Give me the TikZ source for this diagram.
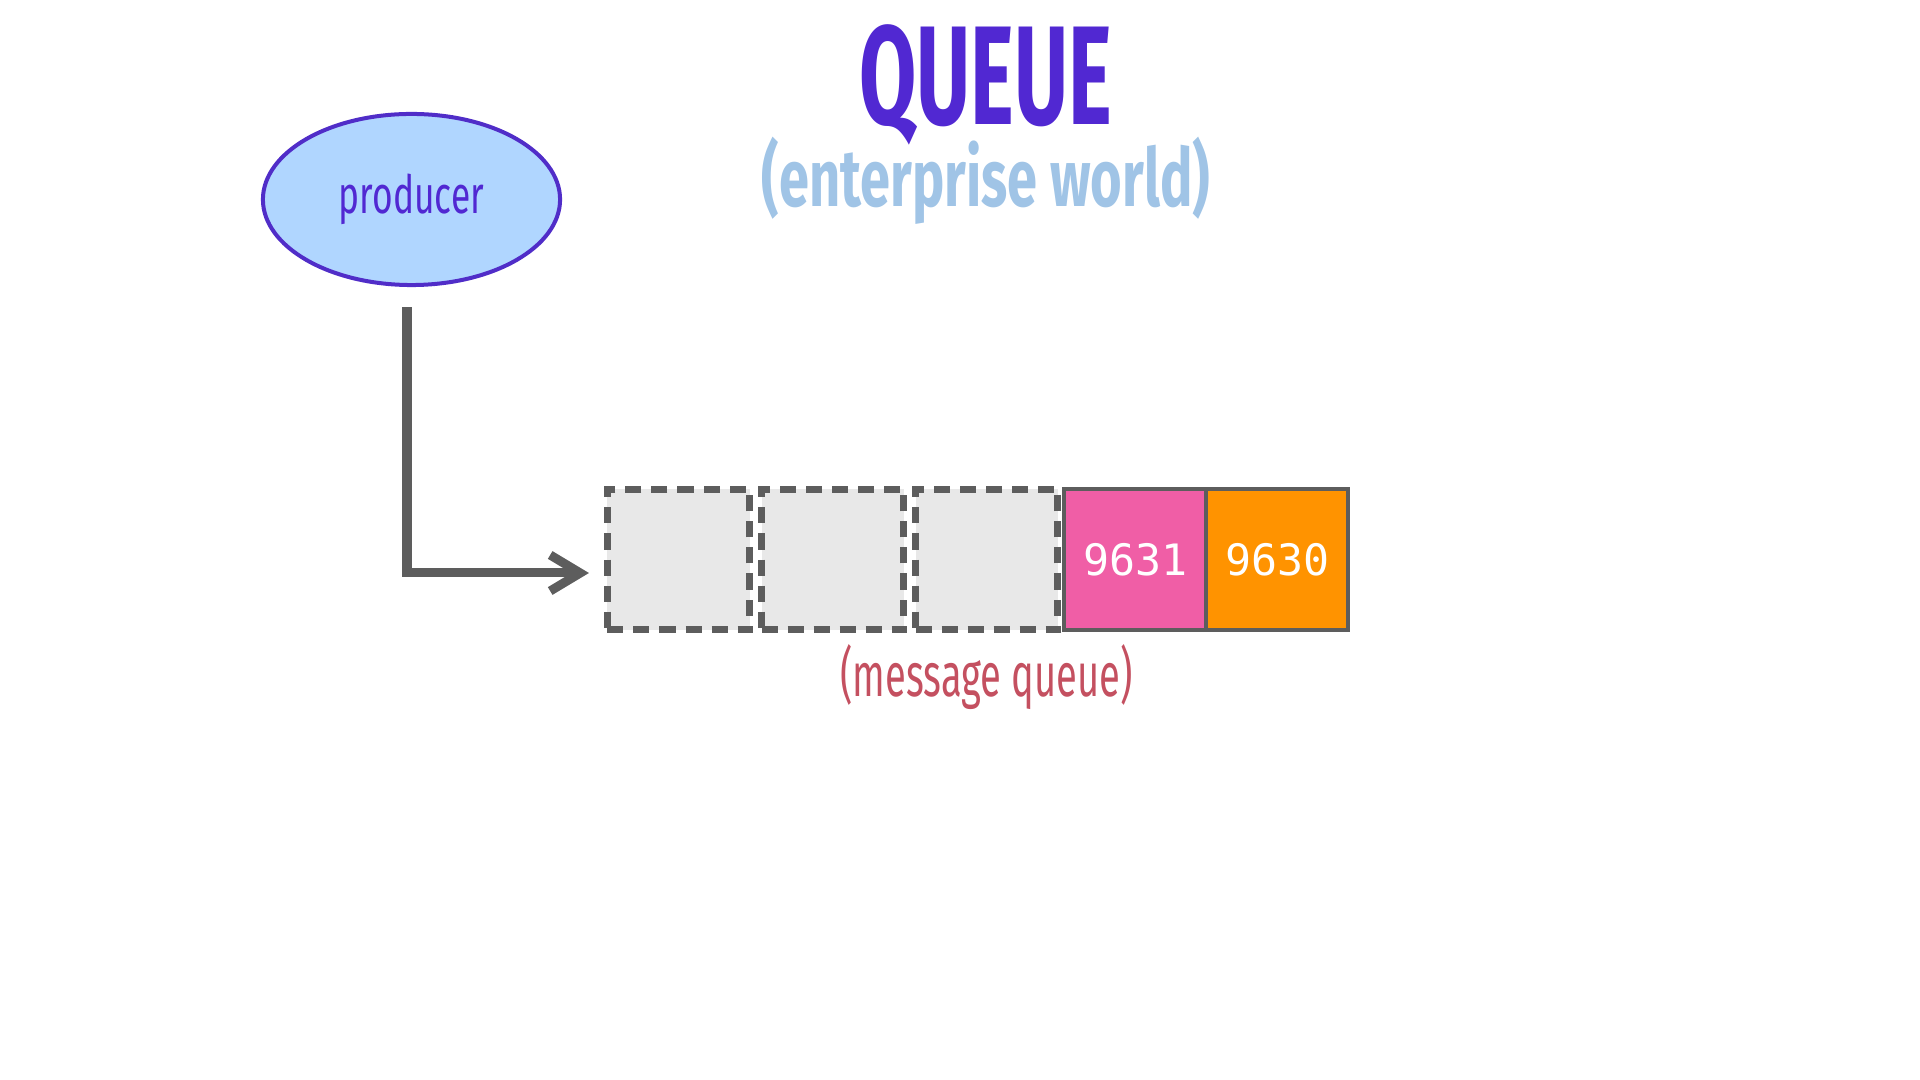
\documentclass[tikz,border=0pt]{standalone}
\usepackage{fontspec}
\usepackage{tikz}
\usetikzlibrary{positioning, shapes.geometric, arrows.meta}
\setmainfont{Fira Sans}
\newfontfamily\titleFont[FakeStretch=0.59]{Fira Sans}
\newfontfamily\condFont[FakeStretch=0.67]{Fira Sans}
\newfontfamily\labelFont[FakeStretch=0.62]{Fira Sans}
\newfontfamily\monoFont{DejaVu Sans Mono}
\definecolor{titleColor}{RGB}{81,40,210}
\definecolor{subtitleColor}{RGB}{160,196,230}
\definecolor{producerFill}{RGB}{176,214,255}
\definecolor{producerLine}{RGB}{80,45,200}
\definecolor{queueGray}{RGB}{93,93,93}
\definecolor{emptyFill}{RGB}{232,232,232}
\definecolor{pinkCell}{RGB}{240,94,166}
\definecolor{orangeCell}{RGB}{255,147,0}
\definecolor{labelColor}{RGB}{196,80,96}
\tikzstyle{screen} = [x = 0.01cm, y = -0.01cm]
\tikzstyle{titleText} = [font=\titleFont\bfseries\fontsize{40}{40}\selectfont, text=titleColor, inner sep=0]
\tikzstyle{subtitleText} = [font=\condFont\bfseries\fontsize{23}{23}\selectfont, text=subtitleColor, inner sep=0]
\tikzstyle{producerStyle} = [ellipse, draw=producerLine, fill=producerFill, line width=0.04cm, minimum width=2.97cm, minimum height=1.71cm, inner sep=0, text=titleColor, font=\condFont\fontsize{15}{15}\selectfont]
\tikzstyle{cellBase} = [rectangle, minimum width=1.42cm, minimum height=1.40cm, inner sep=0, outer sep=0]
\tikzstyle{emptyCell} = [cellBase, draw=queueGray, fill=emptyFill, line width=0.07cm, dash pattern=on 0.16cm off 0.10cm]
\tikzstyle{fullCell} = [cellBase, draw=queueGray, line width=0.04cm, text=white, font=\monoFont\fontsize{12.3}{12.3}\selectfont]
\tikzstyle{queueLabel} = [font=\labelFont\fontsize{17.5}{17.5}\selectfont, text=labelColor, inner sep=0]
\tikzstyle{flow} = [draw=queueGray, line width=0.09cm, -{Straight Barb[length=0.3cm, width=0.36cm]}]
\begin{document}
\begin{tikzpicture}[screen]
  \useasboundingbox (0,0) rectangle (1920,1080);

  \node [titleText, anchor=base] (title) at (986,125) {QUEUE};
  \node [subtitleText, anchor=base] (subtitle) at (986,207) {(enterprise world)};

  \node [producerStyle] (producer) at (411.5,199.5) {producer};

  % the queue, newest on the left
  \node [emptyCell] (cellOne) at (678.5,559.5) {};
  \node [emptyCell, right=0.12cm of cellOne] (cellTwo) {};
  \node [emptyCell, right=0.12cm of cellTwo] (cellThree) {};
  \node [fullCell, fill=pinkCell, right=0.065cm of cellThree] (cellFour) {9631};
  \node [fullCell, fill=orangeCell, right=0cm of cellFour] (cellFive) {9630};
  \node [queueLabel, anchor=base] (queueName) at ([yshift=-0.665cm]cellThree.south) {(message queue)};

  \draw [flow] ([xshift=-0.045cm, yshift=-0.2cm]producer.south) |- ([xshift=-0.185cm, yshift=-0.135cm]cellOne.west);
\end{tikzpicture}
\end{document}
